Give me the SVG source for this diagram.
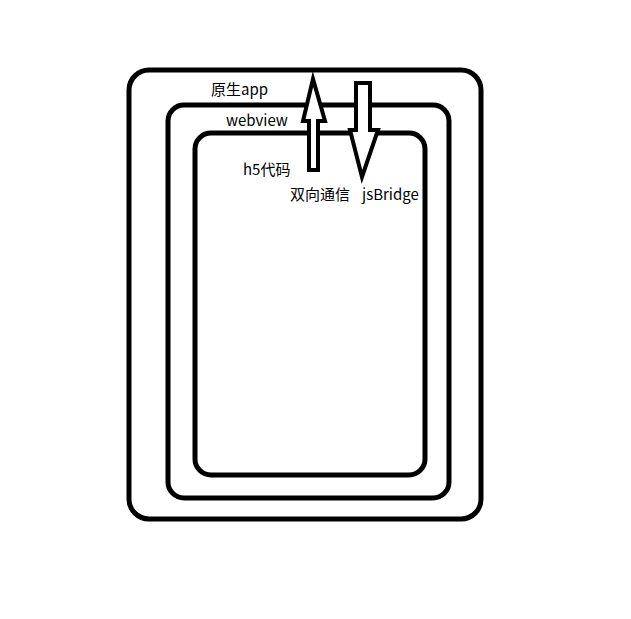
<svg xmlns="http://www.w3.org/2000/svg" width="631" height="619" viewBox="0 0 631 619">
<style>
.box{fill:none;stroke:#000;stroke-width:5}
.arr{fill:#fff;stroke:#000;stroke-width:4;stroke-linejoin:miter}
text{font-family:"Noto Sans CJK SC","Liberation Sans",sans-serif;font-size:15px;fill:#000}
</style>
<rect width="631" height="619" fill="#fff"/>
<g id="native-app"><rect class="box" x="129" y="70" width="352" height="449" rx="20"/><text x="211" y="95">原生app</text></g>
<g id="webview"><rect class="box" x="168" y="105" width="281" height="393" rx="16"/><text x="226" y="126">webview</text></g>
<g id="h5"><rect class="box" x="195" y="133" width="230" height="342" rx="16"/><text x="243" y="175">h5代码</text></g>
<g id="connectors">
<polygon class="arr" points="313,79 303,121 309,121 309,170 318,170 318,121 325,121"/>
<polygon class="arr" points="356,83 370,83 370,130 378,130 362,177 350,130 356,130"/>
<text x="290" y="200">双向通信</text>
<text x="362" y="200">jsBridge</text>
</g>
</svg>
